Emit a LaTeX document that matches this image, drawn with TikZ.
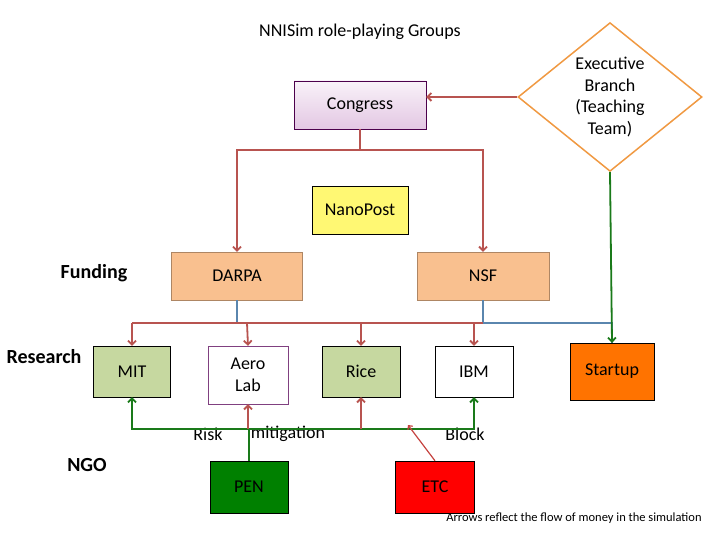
\documentclass[tikz,border=0pt]{standalone}
\usepackage{fontspec}
\setmainfont{Carlito}
\usetikzlibrary{shapes.geometric,arrows.meta}
\definecolor{money}{HTML}{B85450}
\definecolor{gr}{HTML}{1A7A1A}
\definecolor{bl}{HTML}{5A86AE}
\definecolor{peach}{HTML}{F9C08F}
\definecolor{olive}{HTML}{C6D8A0}
\tikzset{
  box/.style={draw=black, minimum width=#1, inner sep=0pt, align=center, font=\fontsize{18}{22}\selectfont},
  red/.style={draw=money, line width=1.8pt},
  ra/.style={red, -{Straight Barb[length=4pt,width=8pt]}},
  ga/.style={draw=gr, line width=1.8pt, -{Straight Barb[length=4pt,width=8pt]}},
  lab/.style={font=\fontsize{18}{22}\selectfont},
  side/.style={font=\bfseries\fontsize{20}{24}\selectfont}
}
\begin{document}
\begin{tikzpicture}[x=1pt,y=-1pt]
\useasboundingbox (0,0) rectangle (720,540);
\node[lab] (title) at (360,32) {NNISim role-playing Groups};
\node[box=132pt, minimum height=48pt, draw=violet!60!black, top color=violet!5, bottom color=violet!22] (congress) at (360,105) {Congress};
\node[diamond, draw=orange!70!brown!80, line width=1.5pt, minimum width=184pt, minimum height=116pt, inner sep=0pt, align=center, font=\fontsize{18}{21.5}\selectfont] (exec) at (610,97) {Executive\\Branch\\(Teaching\\Team)};
\node[box=96pt, minimum height=48pt, fill=yellow!55] (nano) at (360,210) {NanoPost};
\node[box=131pt, minimum height=48pt, fill=peach, draw=peach!70!black] (darpa) at (237,276) {DARPA};
\node[box=132pt, minimum height=48pt, fill=peach, draw=peach!70!black] (nsf) at (483,276) {NSF};
\node[box=77pt, minimum height=51pt, fill=olive] (mit) at (132,371.5) {MIT};
\node[box=80pt, minimum height=58pt, draw=violet!50!gray, font=\fontsize{18}{22}\selectfont] (aero) at (248,375) {Aero\\Lab};
\node[box=78pt, minimum height=51pt, fill=olive] (rice) at (361,371.5) {Rice};
\node[box=78pt, minimum height=51pt] (ibm) at (474,371.5) {IBM};
\node[box=84pt, minimum height=57pt, fill=orange!90!red] (startup) at (612,371.5) {Startup};
\node[box=78pt, minimum height=52pt, fill=green!50!black] (pen) at (249,487) {PEN};
\node[box=79pt, minimum height=52pt, fill=red] (etc) at (435,487) {ETC};
\node[side] (fund) at (94,273) {Funding};
\node[side] (res) at (44,357) {Research};
\node[side] (ngo) at (87,465) {NGO};
\node[lab] (risk) at (208,434) {Risk};
\node[lab] (mitig) at (288,434) {mitigation};
\node[lab] (block) at (465,434) {Block};
\node[font=\fontsize{12.5}{15}\selectfont] (foot) at (574,518) {Arrows reflect the flow of money in the simulation};
\coordinate (cj) at (360,150);
\coordinate (bus) at (247,323);
\coordinate (gbus) at (248,429);
\coordinate (etcend) at (408,425);
% Congress to agencies
\draw[red] (congress.south) -- (cj);
\draw[ra] (cj) -| (darpa.north);
\draw[ra] (cj) -| (nsf.north);
\draw[ra] (exec.west) -- (congress.east |- exec.west);
% blue feeders
\draw[draw=bl, line width=1.4pt] (darpa.south) -- (darpa.south |- bus);
\draw[draw=bl, line width=1.4pt] (nsf.south) -- (nsf.south |- bus) -| (startup.north);
% red bus
\draw[red] (mit.north |- bus) -- (nsf.south |- bus);
\draw[ra] (mit.north |- bus) -- (mit.north);
\draw[ra] (bus) -- (aero.north);
\draw[ra] (rice.north |- bus) -- (rice.north);
\draw[ra] (ibm.north |- bus) -- (ibm.north);
% exec green
\draw[ga] (exec.south) -- (startup.north);
% green bus
\draw[ga] (gbus) -| (mit.south);
\draw[ga] (gbus) -| (ibm.south);
\draw[draw=gr, line width=1.8pt] (pen.north) -- (pen.north |- gbus);
\draw[ra] (gbus) -- (aero.south);
\draw[ra] (rice.south |- gbus) -- (rice.south);
\draw[draw=money!80!red, line width=1.2pt, -{Straight Barb[length=3pt,width=6pt]}] (etc.north) -- (etcend);
\end{tikzpicture}
\end{document}
